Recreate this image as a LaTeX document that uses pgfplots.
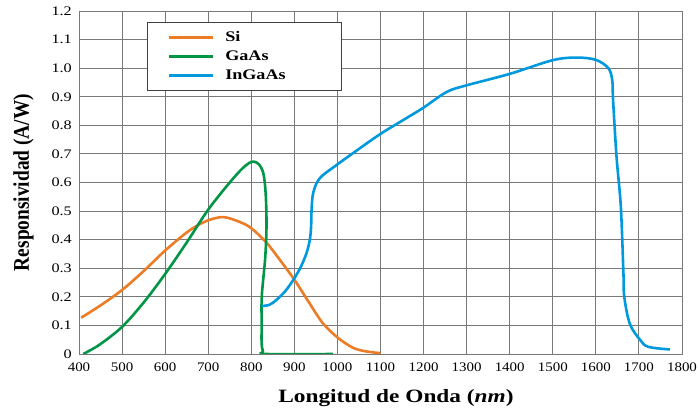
\documentclass[border=0pt]{standalone}
\usepackage{fontspec}
\setmainfont{Liberation Serif}
\usepackage{graphicx}
\usepackage{pgfplots}
\pgfplotsset{compat=1.18}
\definecolor{siorange}{RGB}{236,124,38}
\definecolor{gaasgreen}{RGB}{0,150,70}
\definecolor{ingaasblue}{RGB}{0,153,221}
\definecolor{gridgray}{RGB}{120,120,120}
% the original is stretched sideways, so its text is too
\newcommand{\wide}[1]{\scalebox{1.3}[1.05]{#1}}
\newcommand{\yl}[1]{\scalebox{1.3}[1.05]{#1}}

\begin{document}
\begin{tikzpicture}
\begin{axis}[
    scale only axis,
    width=603bp, height=343bp,
    xmin=400, xmax=1800, ymin=0, ymax=1.2,
    xtick={400,500,...,1800},
    ytick={0,0.1,0.2,0.3,0.4,0.5,0.6,0.7,0.8,0.9,1.0,1.1,1.2},
    yticklabels={\yl{0},\yl{0.1},\yl{0.2},\yl{0.3},\yl{0.4},\yl{0.5},\yl{0.6},
        \yl{0.7},\yl{0.8},\yl{0.9},\yl{1.0},\yl{1.1},\yl{1.2}},
    xticklabel={\scalebox{1.2}[1.05]{\pgfmathprintnumber[fixed,precision=0,1000 sep={}]{\tick}}},
    /pgf/number format/assume math mode=true,
    grid=major,
    grid style={gridgray, line width=0.9bp},
    axis line style={gridgray, line width=0.9bp},
    major tick length=0pt,
    xticklabel style={font=\fontsize{12.5}{12.5}\selectfont, inner sep=0pt, anchor=north, yshift=-9bp},
    yticklabel style={font=\fontsize{12.5}{12.5}\selectfont, inner sep=0pt, anchor=east, xshift=-7bp},
    xlabel={\scalebox{1.3}[1.05]{Longitud de Onda (\textit{nm})}},
    ylabel={\scalebox{1.08}[1.25]{Responsividad (A/W)}},
    xlabel style={font=\bfseries\fontsize{18}{18}\selectfont, at={(axis description cs:0.5257,-0.128)}, anchor=center},
    ylabel style={font=\bfseries\fontsize{18}{18}\selectfont, at={(axis description cs:-0.092,0.5)}, anchor=center},
    legend style={at={(axis cs:558,1.161)}, anchor=north west, draw=black!75, line width=0.8bp,
        font=\bfseries\fontsize{14}{14}\selectfont, inner xsep=0pt, inner ysep=8.5bp, row sep=6bp,
        nodes={inner sep=0pt, text height=10bp, text depth=3bp}},
    legend cell align=left,
    legend image code/.code={\path (0bp,0bp); \draw[#1, line width=3bp] (20bp,0bp) -- (64bp,0bp);},
    every axis plot/.append style={line width=2.6bp, smooth, tension=0.55},
]
\coordinate (ll) at (rel axis cs:0,0);
\coordinate (ur) at (rel axis cs:1,1);

\addplot[siorange] coordinates {
    (405,0.127) (450,0.17) (500,0.224) (550,0.29) (600,0.362) (650,0.425)
    (681,0.455) (700,0.468) (735,0.479) (773,0.462) (800,0.44) (835,0.39)
    (865,0.332) (900,0.26) (935,0.178) (966,0.108) (1000,0.058) (1036,0.022)
    (1067,0.009) (1100,0.003)
};
\addlegendentry{\makebox[127bp][l]{\hspace{11bp}\wide{Si}}}

\addplot[gaasgreen] coordinates {
    (410,0.0) (420,0.008) (450,0.035) (500,0.095) (550,0.18) (600,0.28)
    (650,0.39) (700,0.505) (750,0.60) (780,0.65) (800,0.672) (812,0.670)
    (822,0.655) (829,0.625) (833,0.57) (835,0.50) (835,0.42) (832,0.33)
    (827,0.25) (824,0.19) (824,0.10) (824,0.04) (827,0.01) (836,0.0)
    (990,0.0)
};
\addlegendentry{\makebox[127bp][l]{\hspace{11bp}\wide{GaAs}}}

\addplot[ingaasblue] coordinates {
    (824,0.168) (842,0.172) (859,0.19) (880,0.222) (900,0.265) (915,0.305)
    (928,0.352) (936,0.40) (939,0.45) (940,0.505) (944,0.565) (959,0.615)
    (997,0.66) (1043,0.71) (1100,0.77) (1160,0.825) (1200,0.862) (1254,0.917)
    (1300,0.94) (1400,0.98) (1500,1.028) (1556,1.037) (1600,1.029) (1629,1.0)
    (1638,0.958) (1640,0.888) (1648,0.69) (1658,0.515) (1664,0.283)
    (1666,0.20) (1679,0.105) (1703,0.049) (1722,0.025) (1772,0.016)
};
\addlegendentry{\makebox[127bp][l]{\hspace{11bp}\wide{InGaAs}}}
\end{axis}
\pgfresetboundingbox
\useasboundingbox ([shift={(-79bp,-56bp)}]ll) rectangle ([shift={(17bp,11bp)}]ur);
\end{tikzpicture}
\end{document}
